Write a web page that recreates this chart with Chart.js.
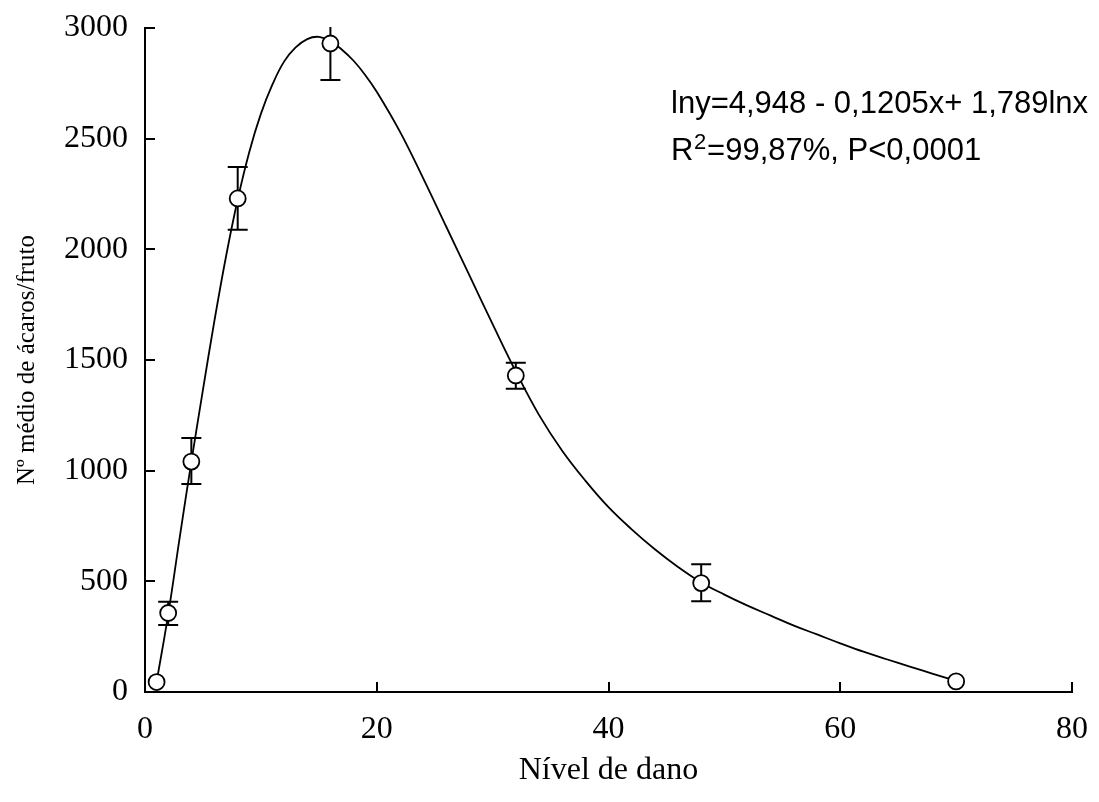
<!DOCTYPE html>
<html>
<head>
<meta charset="utf-8">
<script src="https://cdn.jsdelivr.net/npm/chart.js@4/dist/chart.umd.min.js"></script>
<style>
  html, body { margin: 0; padding: 0; background: #fff; }
  #wrap { width: 1099px; height: 802px; position: relative; }
</style>
</head>
<body>
<div id="wrap"><canvas id="c" width="1099" height="802"></canvas></div>
<script>
// ---- data ----
const nivelDano = [1, 2, 4, 8, 16, 32, 48, 70];
const mediaAcaros = [45, 357, 1041, 2230, 2930, 1430, 492, 48];
const erroInferior = [null, 303, 940, 2088, 2765, 1370, 410, null];
const erroSuperior = [null, 408, 1148, 2372, 3010, 1488, 577, null];

const curvaX = [1, 2, 3, 4, 5, 6, 7, 8, 9, 10, 11, 12, 13, 14, 15, 16, 17, 18, 19, 20, 22, 24, 26, 28, 30, 32, 34, 36, 38, 40, 42, 44, 46, 48, 50, 52, 54, 56, 58, 60, 62, 64, 66, 68, 70];
const curvaY = [45, 350, 700, 1040, 1365, 1680, 1970, 2225, 2440, 2612, 2745, 2848, 2912, 2950, 2960, 2940, 2902, 2852, 2788, 2712, 2532, 2322, 2102, 1882, 1662, 1448, 1252, 1090, 955, 835, 735, 645, 565, 495, 440, 390, 345, 300, 260, 220, 182, 148, 115, 82, 50];

const xTicks = [0, 20, 40, 60, 80];
const yTicks = [0, 500, 1000, 1500, 2000, 2500, 3000];

const xTitle = 'Nível de dano';
const yTitle = 'Nº médio de ácaros/fruto';
const eqLine1 = 'lny=4,948 - 0,1205x+ 1,789lnx';
const eqLine2a = 'R';
const eqLine2sup = '2';
const eqLine2b = '=99,87%, P<0,0001';

const serif = '"Liberation Serif", "Times New Roman", serif';
const sans = '"Liberation Sans", Arial, sans-serif';

const pontos = nivelDano.map((x, i) => ({ x: x, y: mediaAcaros[i] }));
const curva = curvaX.map((x, i) => ({ x: x, y: curvaY[i] }));

const errorBars = {
  id: 'errorBars',
  beforeDatasetsDraw(chart) {
    const { ctx, chartArea, scales: { x, y } } = chart;
    ctx.save();
    ctx.beginPath();
    ctx.rect(chartArea.left, chartArea.top - 1, chartArea.right - chartArea.left, chartArea.bottom - chartArea.top + 1);
    ctx.clip();
    ctx.strokeStyle = '#000';
    ctx.lineWidth = 2;
    nivelDano.forEach((v, i) => {
      if (erroInferior[i] == null) return;
      const px = x.getPixelForValue(v);
      const lo = y.getPixelForValue(erroInferior[i]);
      const hi = y.getPixelForValue(erroSuperior[i]);
      ctx.beginPath();
      ctx.moveTo(px, lo); ctx.lineTo(px, hi);
      ctx.moveTo(px - 10, lo); ctx.lineTo(px + 10, lo);
      ctx.moveTo(px - 10, hi); ctx.lineTo(px + 10, hi);
      ctx.stroke();
    });
    ctx.restore();
  }
};

const innerTicks = {
  id: 'innerTicks',
  afterDraw(chart) {
    const { ctx, chartArea, scales: { x, y } } = chart;
    ctx.save();
    ctx.strokeStyle = '#000';
    ctx.lineWidth = 2;
    ctx.beginPath();
    x.ticks.forEach(t => {
      const px = Math.round(x.getPixelForValue(t.value));
      ctx.moveTo(px, chartArea.bottom); ctx.lineTo(px, chartArea.bottom - 10);
    });
    y.ticks.forEach(t => {
      const py = Math.round(y.getPixelForValue(t.value));
      ctx.moveTo(chartArea.left, py); ctx.lineTo(chartArea.left + 10, py);
    });
    ctx.stroke();

    // equation annotation
    ctx.fillStyle = '#000';
    ctx.textBaseline = 'alphabetic';
    ctx.textAlign = 'left';
    ctx.font = '31px ' + sans;
    ctx.fillText(eqLine1, 671, 113);
    ctx.fillText(eqLine2a, 671, 160);
    const wR = ctx.measureText(eqLine2a).width;
    ctx.font = '22px ' + sans;
    ctx.fillText(eqLine2sup, 671 + wR + 0.5, 149);
    const w2 = ctx.measureText(eqLine2sup).width;
    ctx.font = '31px ' + sans;
    ctx.fillText(eqLine2b, 671 + wR + w2 + 1.5, 160);
    ctx.restore();
  }
};

new Chart(document.getElementById('c'), {
  type: 'scatter',
  data: {
    datasets: [
      {
        type: 'scatter',
        data: pontos,
        showLine: false,
        pointStyle: 'circle',
        pointRadius: 8,
        pointHoverRadius: 8,
        pointBackgroundColor: '#fff',
        pointBorderColor: '#000',
        pointBorderWidth: 1.8,
        clip: false,
        order: 1
      },
      {
        type: 'line',
        data: curva,
        showLine: true,
        borderColor: '#000',
        borderWidth: 1.8,
        pointRadius: 0,
        fill: false,
        tension: 0.4,
        clip: false,
        order: 2
      }
    ]
  },
  plugins: [errorBars, innerTicks],
  options: {
    responsive: false,
    animation: false,
    events: [],
    layout: { padding: { top: 28, right: 27, left: 0, bottom: 0 } },
    plugins: { legend: { display: false }, tooltip: { enabled: false } },
    scales: {
      x: {
        type: 'linear',
        min: 0, max: 80,
        afterBuildTicks(scale) { scale.ticks = xTicks.map(v => ({ value: v })); },
        afterFit(scale) { scale.height = 110; scale.paddingLeft = 0; scale.paddingRight = 0; },
        grid: { display: false, drawTicks: false, tickLength: 0 },
        border: { display: true, color: '#000', width: 2 },
        ticks: { color: '#000', padding: 18, maxRotation: 0, font: { family: serif, size: 32 }, callback: v => String(v) },
        title: { display: true, text: xTitle, color: '#000', padding: { top: 12, bottom: 12 }, font: { family: serif, size: 32 } }
      },
      y: {
        type: 'linear',
        min: 0, max: 3000,
        afterBuildTicks(scale) { scale.ticks = yTicks.map(v => ({ value: v })); },
        afterFit(scale) { scale.width = 145; scale.paddingTop = 0; scale.paddingBottom = 0; },
        grid: { display: false, drawTicks: false, tickLength: 0 },
        border: { display: true, color: '#000', width: 2 },
        ticks: { color: '#000', padding: 17, font: { family: serif, size: 32 }, callback: v => String(v) },
        title: { display: true, text: yTitle, color: '#000', padding: { top: 12, bottom: 12 }, font: { family: serif, size: 25 } }
      }
    }
  }
});
</script>
</body>
</html>
